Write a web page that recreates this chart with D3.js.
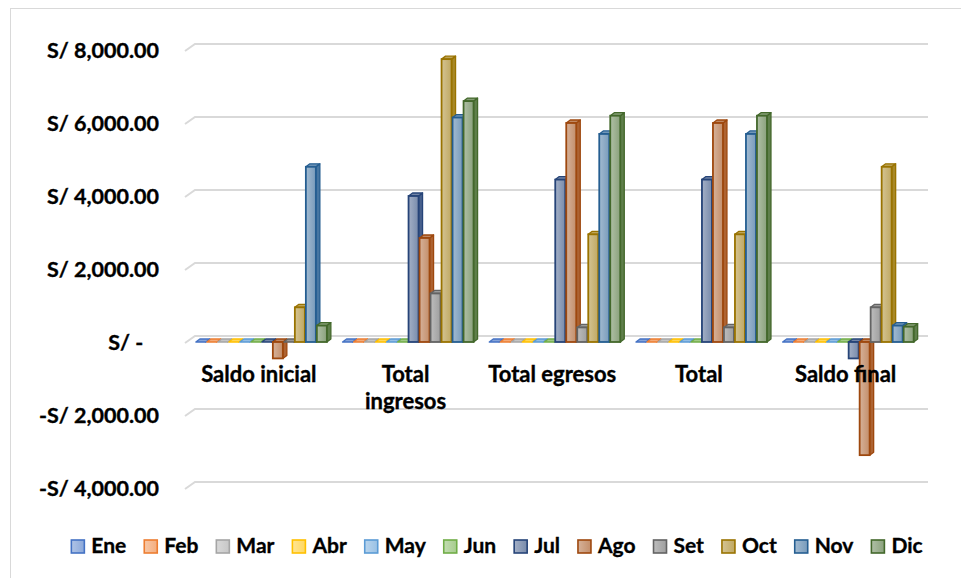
<!DOCTYPE html>
<html>
<head>
<meta charset="utf-8">
<script src="https://cdn.jsdelivr.net/npm/d3@7"></script>
<style>
  body { margin: 0; background: #fff; }
  text { font-family: Lato, "Noto Sans", sans-serif; font-weight: bold; fill: #000; stroke: #000; stroke-width: 0.35px; }
</style>
</head>
<body>
<div id="chart"></div>
<script>
var width = 961, height = 578;

var categories = ["Saldo inicial", "Total ingresos", "Total egresos", "Total", "Saldo final"];
var months = ["Ene", "Feb", "Mar", "Abr", "May", "Jun", "Jul", "Ago", "Set", "Oct", "Nov", "Dic"];
var colors = ["#4472C4", "#ED7D31", "#A5A5A5", "#FFC000", "#5B9BD5", "#70AD47",
              "#264478", "#9E480E", "#636363", "#997300", "#255E91", "#43682B"];
var yTicks = [-4000, -2000, 0, 2000, 4000, 6000, 8000];

// one value per month, Ene..Dic
var saldoInicial  = [0, 0, 0, 0, 0, 0, 0, -450, 0, 950, 4800, 450];
var totalIngresos = [0, 0, 0, 0, 0, 0, 4000, 2850, 1330, 7750, 6150, 6600];
var totalEgresos  = [0, 0, 0, 0, 0, 0, 4450, 6000, 400, 2950, 5700, 6200];
var total         = [0, 0, 0, 0, 0, 0, 4450, 6000, 400, 2950, 5700, 6200];
var saldoFinal    = [0, 0, 0, 0, 0, 0, -450, -3100, 950, 4800, 450, 420];

var series = [saldoInicial, totalIngresos, totalEgresos, total, saldoFinal];

var depthX = 4, depthY = -3;     // bar depth
var wallX = 10, wallY = -7;      // back wall offset

var svg = d3.select('#chart').append('svg')
  .attr('width', width)
  .attr('height', height);

// chart border
svg.append('rect')
  .attr('x', 10.5).attr('y', 8.5)
  .attr('width', 1000).attr('height', 700)
  .attr('fill', 'none')
  .attr('stroke', '#d9d9d9');

var y = d3.scaleLinear().domain([-4000, 8000]).range([488, 50]);

var x0 = d3.scaleBand().domain(categories)
  .range([188.5, 922])
  .paddingInner(0.1).paddingOuter(0.05);

var x1 = d3.scaleBand().domain(months).range([0, x0.bandwidth()]);

var light = function(c, t) { return d3.interpolateRgb(c, "#ffffff")(t); };

// gradients
var defs = svg.append('defs');
var grads = defs.selectAll('linearGradient')
  .data(colors).enter()
  .append('linearGradient')
    .attr('id', function(d, i) { return 'grad-' + i; })
    .attr('x1', '0').attr('x2', '1').attr('y1', '0').attr('y2', '0');
grads.append('stop').attr('offset', '0%').attr('stop-color', function(d) { return light(d, 0.58); });
grads.append('stop').attr('offset', '100%').attr('stop-color', function(d) { return light(d, 0.38); });

// gridlines
var grid = svg.append('g').attr('class', 'grid');
grid.selectAll('path')
  .data(yTicks).enter()
  .append('path')
    .attr('d', function(d) {
      var yy = y(d);
      return 'M185,' + (yy + 1) + 'L' + (185 + wallX) + ',' + (yy + 1 + wallY) + 'L928,' + (yy + 1 + wallY);
    })
    .attr('fill', 'none')
    .attr('stroke', '#d9d9d9')
    .attr('stroke-width', 2);

// y labels
var fmt = d3.format(',.2f');
svg.append('g').selectAll('text')
  .data(yTicks).enter()
  .append('text')
    .attr('x', 159)
    .attr('y', function(d) { return y(d); })
    .attr('dy', '0.36em')
    .attr('text-anchor', 'end')
    .style('font-size', '21.5px')
    .text(function(d) {
      if (d === 0) return 'S/ -\u00a0\u00a0\u00a0';
      return (d < 0 ? '-' : '') + 'S/ ' + fmt(Math.abs(d));
    });

// bars
var bars = [];
categories.forEach(function(c, ci) {
  months.forEach(function(m, mi) {
    bars.push({cat: c, month: m, mi: mi, value: series[ci][mi]});
  });
});

var barW = x1.bandwidth() - 1;

var barG = svg.append('g').selectAll('g')
  .data(bars).enter()
  .append('g')
    .attr('transform', function(d) { return 'translate(' + (x0(d.cat) + x1(d.month)) + ',0)'; });

barG.each(function(d) {
  var g = d3.select(this);
  var base = colors[d.mi];
  var top = y(Math.max(0, d.value)), bottom = y(Math.min(0, d.value));
  var h = bottom - top;

  // side face
  g.append('path')
    .attr('d', 'M' + barW + ',' + top + 'l' + depthX + ',' + depthY + 'l0,' + h + 'l' + (-depthX) + ',' + (-depthY) + 'z')
    .attr('fill', light(base, 0.15))
    .attr('stroke', base)
    .attr('stroke-width', 1.3)
    .attr('stroke-linejoin', 'round');

  // top face
  g.append('path')
    .attr('d', 'M0,' + top + 'l' + depthX + ',' + depthY + 'l' + barW + ',0l' + (-depthX) + ',' + (-depthY) + 'z')
    .attr('fill', light(base, 0.35))
    .attr('stroke', base)
    .attr('stroke-width', 1.3)
    .attr('stroke-linejoin', 'round');

  // front face
  if (h > 0) {
    g.append('rect')
      .attr('x', 0).attr('y', top)
      .attr('width', barW).attr('height', h)
      .attr('fill', 'url(#grad-' + d.mi + ')')
      .attr('stroke', base)
      .attr('stroke-width', 1.8);
  }
});

// category labels
var catG = svg.append('g').selectAll('text')
  .data(categories).enter()
  .append('text')
    .attr('x', function(d) { return x0(d) + x0.bandwidth() / 2 - 3; })
    .attr('y', 382)
    .attr('text-anchor', 'middle')
    .style('font-size', '22px');

catG.each(function(d) {
  var t = d3.select(this);
  var words = d === 'Total ingresos' ? ['Total', 'ingresos'] : [d];
  words.forEach(function(w, i) {
    t.append('tspan')
      .attr('x', t.attr('x'))
      .attr('dy', i === 0 ? 0 : 27)
      .text(w);
  });
});

// legend
var legend = svg.append('g');
var items = legend.selectAll('g')
  .data(months).enter()
  .append('g');

items.append('rect')
  .attr('width', 13).attr('height', 13)
  .attr('y', -13)
  .attr('fill', function(d, i) { return 'url(#grad-' + i + ')'; })
  .attr('stroke', function(d, i) { return colors[i]; })
  .attr('stroke-width', 1.6);

items.append('text')
  .attr('x', 20)
  .attr('y', 0)
  .style('font-size', '21px')
  .text(function(d) { return d; });

var pos = 0;
var offsets = [];
items.each(function(d) {
  var w = 20 + d3.select(this).select('text').node().getComputedTextLength();
  offsets.push(pos);
  pos += w + 18;
});
var totalW = pos - 18;
var startX = 497 - totalW / 2;
items.attr('transform', function(d, i) { return 'translate(' + (startX + offsets[i]) + ',553)'; });
</script>
</body>
</html>
